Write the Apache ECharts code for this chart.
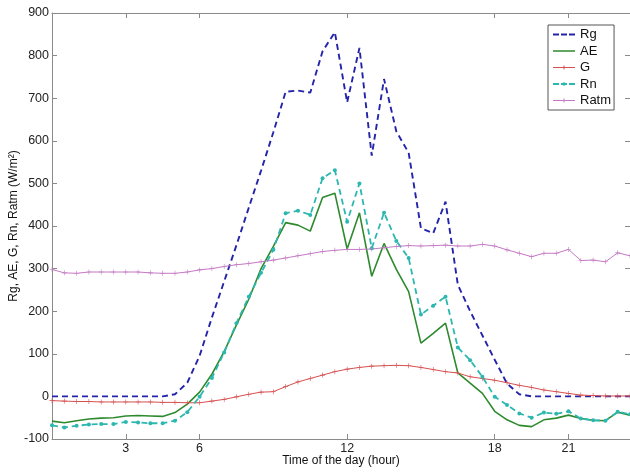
<!DOCTYPE html>
<html>
<head>
<meta charset="utf-8">
<script src="https://cdn.jsdelivr.net/npm/echarts@6/dist/echarts.min.js"></script>
<style>html,body{margin:0;padding:0;background:#fff;}#c{width:630px;height:473px;}</style>
</head>
<body>
<div id="c"></div>
<script>
var hours = [0,0.5,1,1.5,2,2.5,3,3.5,4,4.5,5,5.5,6,6.5,7,7.5,8,8.5,9,9.5,10,10.5,11,11.5,12,12.5,13,13.5,14,14.5,15,15.5,16,16.5,17,17.5,18,18.5,19,19.5,20,20.5,21,21.5,22,22.5,23,23.5];
var Rg = [0,0,0,0,0,0,0,0,0,0,5,32,95,185,270,355,443,530,620,715,718,713,810,855,690,818,565,745,622,572,395,383,457,262,200,143,86,30,5,0,0,0,0,0,0,0,0,0];
var AE = [-58,-62,-57,-53,-51,-50,-46,-45,-46,-47,-38,-18,10,52,105,168,228,300,352,408,402,388,467,477,346,431,282,359,298,246,125,148,172,55,31,7,-35,-55,-68,-71,-55,-51,-44,-52,-56,-57,-37,-44];
var G = [-10,-11,-12,-12,-13,-13,-13,-13,-13,-14,-14,-15,-15,-11,-7,-1,5,10,11,23,34,42,50,58,64,68,71,72,73,72,68,63,58,55,46,42,38,32,26,21,15,11,7,3,2,1,1,1];
var Rn = [-68,-73,-69,-66,-65,-65,-60,-61,-63,-63,-57,-37,-1,43,103,172,234,290,344,430,436,426,512,531,410,500,348,431,365,325,192,213,234,115,85,46,-1,-20,-40,-50,-38,-41,-35,-52,-56,-57,-36,-42];
var Ratm = [298,290,289,292,292,292,292,292,290,289,289,292,297,300,305,309,312,316,320,325,330,335,340,343,345,345,346,349,352,354,353,354,355,353,353,357,353,344,336,328,336,336,345,319,320,316,337,330];
var xTicks = [3,6,12,18,21];
var seriesNames = ['Rg','AE','G','Rn','Ratm'];

function pairs(v){ return hours.map(function(h,i){ return [h, v[i]]; }); }

var axisColor = '#8a8a8a';
var font = 'Liberation Sans, Arial, sans-serif';
var plus = 'path://M0,4.4h10v1.2h-10z M4.4,0h1.2v10h-1.2z';
// legend icons drawn in a 22x11 box (corner anchors fix the box)
var anchors = 'M0,0h0.01v0.01h-0.01z M22,11h-0.01v-0.01h0.01z ';
var icons = {
  Rg: 'path://' + anchors + 'M0,4.6h6v1.8h-6z M8,4.6h6v1.8h-6z M16,4.6h6v1.8h-6z',
  AE: 'path://' + anchors + 'M0,4.7h22v1.6h-22z',
  G: 'path://' + anchors + 'M0,5.1h22v0.8h-22z M9,5h4v1h-4z M10.5,3.5h1v4h-1z',
  Rn: 'path://' + anchors + 'M0,4.6h6v1.8h-6z M8,4.6h2.5v1.8h-2.5z M11.5,4.6h2.5v1.8h-2.5z M16,4.6h6v1.8h-6z M9.8,4h2.4v3h-2.4z',
  Ratm: 'path://' + anchors + 'M0,5.1h22v0.8h-22z M9,5h4v1h-4z M10.5,3.5h1v4h-1z'
};

var chart = echarts.init(document.getElementById('c'), null, {renderer:'canvas'});
chart.setOption({
  animation: false,
  backgroundColor: '#fff',
  textStyle: {fontFamily: font},
  grid: {left: 52, right: 0, top: 13, bottom: 34, containLabel: false, outerBoundsMode: 'none'},
  legend: {
    orient: 'vertical', left: 548, top: 25,
    padding: [3,3,3,5], itemWidth: 22, itemHeight: 11, itemGap: 3.5,
    borderColor: '#555', borderWidth: 1, backgroundColor: '#fff',
    textStyle: {fontSize: 13, color: '#111', fontFamily: font},
    data: seriesNames.map(function(n){ return {name: n, icon: icons[n]}; })
  },
  xAxis: [{
    type: 'value', min: 0, max: 23.5, position: 'bottom',
    name: 'Time of the day (hour)', nameLocation: 'middle', nameGap: 16, nameMoveOverlap: false,
    nameTextStyle: {fontSize: 12, color: '#111'},
    axisLine: {show: true, onZero: false, lineStyle: {color: axisColor}},
    axisTick: {show: true, inside: true, length: 5, customValues: xTicks, lineStyle: {color: axisColor}},
    axisLabel: {show: true, customValues: xTicks, fontSize: 12.5, color: '#222', margin: 3},
    splitLine: {show: false}
  },{
    type: 'value', min: 0, max: 23.5, position: 'top',
    axisLine: {show: true, onZero: false, lineStyle: {color: axisColor}},
    axisTick: {show: true, inside: true, length: 5, customValues: xTicks, lineStyle: {color: axisColor}},
    axisLabel: {show: false},
    splitLine: {show: false}
  }],
  yAxis: [{
    type: 'value', min: -100, max: 900, interval: 100, position: 'left',
    name: 'Rg, AE, G, Rn, Ratm (W/m\u00B2)', nameLocation: 'middle', nameGap: 38, nameMoveOverlap: false,
    nameTextStyle: {fontSize: 12, color: '#111', verticalAlign: 'middle'},
    axisLine: {show: true, onZero: false, lineStyle: {color: axisColor}},
    axisTick: {show: true, inside: true, length: 5, lineStyle: {color: axisColor}},
    axisLabel: {fontSize: 12.5, color: '#222', margin: 3},
    splitLine: {show: false}
  },{
    type: 'value', min: -100, max: 900, interval: 100, position: 'right',
    axisLine: {show: true, onZero: false, lineStyle: {color: axisColor}},
    axisTick: {show: true, inside: true, length: 5, lineStyle: {color: axisColor}},
    axisLabel: {show: false},
    splitLine: {show: false}
  }],
  series: [{
    name: 'Rg', type: 'line', data: pairs(Rg), symbol: 'none',
    lineStyle: {color: '#2424aa', width: 1.9, type: [6,4]},
    itemStyle: {color: '#2424aa'}
  },{
    name: 'AE', type: 'line', data: pairs(AE), symbol: 'none',
    lineStyle: {color: '#2e8a2e', width: 1.6},
    itemStyle: {color: '#2e8a2e'}
  },{
    name: 'G', type: 'line', data: pairs(G), symbol: plus, symbolSize: 5, showAllSymbol: true,
    lineStyle: {color: '#d65050', width: 1},
    itemStyle: {color: '#d65050'}
  },{
    name: 'Rn', type: 'line', data: pairs(Rn), symbol: 'circle', symbolSize: 4, showAllSymbol: true,
    lineStyle: {color: '#2cb7b0', width: 1.8, type: [6,4]},
    itemStyle: {color: '#2cb7b0'}
  },{
    name: 'Ratm', type: 'line', data: pairs(Ratm), symbol: plus, symbolSize: 5, showAllSymbol: true,
    lineStyle: {color: '#c47ac4', width: 1},
    itemStyle: {color: '#c47ac4'}
  }]
});
</script>
</body>
</html>
